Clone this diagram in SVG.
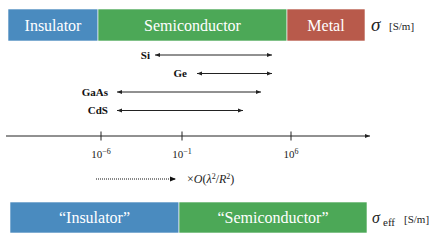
<svg xmlns="http://www.w3.org/2000/svg" width="436" height="247" viewBox="0 0 436 247">
<style>
text{font-family:"Liberation Serif","Times New Roman","DejaVu Serif",serif}
.box{stroke:#ffffff;stroke-width:0.6}
.lbl{font-size:16px;fill:#ffffff;text-anchor:middle}
.mat{font-size:11px;font-weight:bold;fill:#111;text-anchor:end}
.ax{font-size:11px;fill:#222;text-anchor:middle}
.unit{font-size:11px;fill:#222}
.ln{stroke:#222;stroke-width:1;fill:none}
</style>
<defs>
<marker id="ah" markerWidth="6" markerHeight="6" refX="5" refY="3" orient="auto-start-reverse" markerUnits="userSpaceOnUse">
<path d="M0,1 L5,3 L0,5 Z" fill="#222"/>
</marker>
<marker id="ah2" markerWidth="8" markerHeight="8" refX="6" refY="4" orient="auto" markerUnits="userSpaceOnUse">
<path d="M0,1.5 L6,4 L0,6.5 Z" fill="#111"/>
</marker>
</defs>
<g id="top-insulator"><rect class="box" x="8" y="9" width="90" height="32" fill="#4A8BBF"/><text class="lbl" x="53" y="30.5">Insulator</text></g>
<g id="top-semiconductor"><rect class="box" x="98" y="9" width="189" height="32" fill="#4CA857"/><text class="lbl" x="192.5" y="30.5">Semiconductor</text></g>
<g id="top-metal"><rect class="box" x="287" y="9" width="78" height="32" fill="#B85A4B"/><text class="lbl" x="326" y="30.5">Metal</text></g>
<g id="sigma-label"><text x="371" y="31" font-style="italic" font-size="19" fill="#222">σ</text><text class="unit" x="389" y="30">[S/m]</text></g>

<g id="materials">
<text class="mat" x="150" y="58.5">Si</text>
<text class="mat" x="187" y="77">Ge</text>
<text class="mat" x="108" y="95.5">GaAs</text>
<text class="mat" x="108" y="114">CdS</text>
</g>
<g id="connectors">
<line class="ln" x1="155" y1="55" x2="272" y2="55" marker-start="url(#ah)" marker-end="url(#ah)"/>
<line class="ln" x1="197" y1="73.5" x2="272" y2="73.5" marker-start="url(#ah)" marker-end="url(#ah)"/>
<line class="ln" x1="117" y1="92" x2="261" y2="92" marker-start="url(#ah)" marker-end="url(#ah)"/>
<line class="ln" x1="117" y1="110.5" x2="243" y2="110.5" marker-start="url(#ah)" marker-end="url(#ah)"/>
<line class="ln" x1="6" y1="136" x2="370" y2="136" marker-end="url(#ah)"/>
<line class="ln" x1="101" y1="131.5" x2="101" y2="140.5"/>
<line class="ln" x1="182" y1="131.5" x2="182" y2="140.5"/>
<line class="ln" x1="291" y1="131.5" x2="291" y2="140.5"/>
<line x1="96" y1="179" x2="176" y2="179" stroke="#111" stroke-width="1" stroke-dasharray="1,1" marker-end="url(#ah2)"/>
</g>
<g id="axis-labels">
<text class="ax" x="101" y="157.5">10<tspan font-size="8" dy="-4">−6</tspan></text>
<text class="ax" x="182" y="157.5">10<tspan font-size="8" dy="-4">−1</tspan></text>
<text class="ax" x="291" y="157.5">10<tspan font-size="8" dy="-4">6</tspan></text>
</g>
<g id="scaling-label"><text x="187" y="183" font-size="12" fill="#222">×<tspan font-style="italic">O</tspan>(<tspan font-style="italic">λ</tspan><tspan font-size="8" dy="-4">2</tspan><tspan dy="4">/</tspan><tspan font-style="italic">R</tspan><tspan font-size="8" dy="-4">2</tspan><tspan dy="4">)</tspan></text></g>

<g id="bottom-insulator"><rect class="box" x="10" y="202" width="169" height="31" fill="#4A8BBF"/><text class="lbl" x="94.5" y="222.5">“Insulator”</text></g>
<g id="bottom-semiconductor"><rect class="box" x="179" y="202" width="188" height="31" fill="#4CA857"/><text class="lbl" x="273" y="222.5">“Semiconductor”</text></g>
<g id="sigma-eff-label"><text x="372" y="223" font-style="italic" font-size="16" fill="#222">σ</text><text x="383" y="226" font-size="11" fill="#222">eff</text><text class="unit" x="404" y="223">[S/m]</text></g>
</svg>
